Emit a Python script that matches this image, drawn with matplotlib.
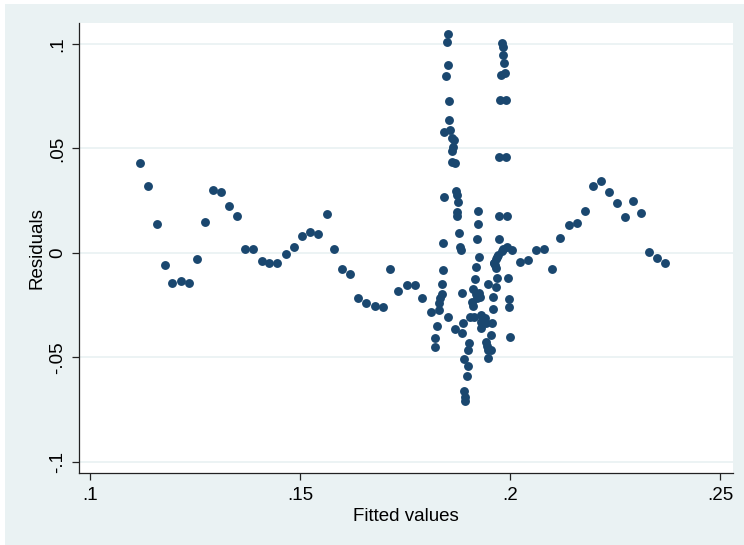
import matplotlib.pyplot as plt
from matplotlib.patches import Rectangle

plt.rcParams['font.family'] = ['Liberation Sans', 'DejaVu Sans']

# fitted values (x) and residuals (y)
fitted = [
    0.1120, 0.1139, 0.1159, 0.1178, 0.1196, 0.1216, 0.1235, 0.1255, 0.1274, 0.1292,
    0.1312, 0.1331, 0.1350, 0.1370, 0.1389, 0.1409, 0.1427, 0.1446, 0.1466, 0.1485,
    0.1505, 0.1524, 0.1542, 0.1564, 0.1580, 0.1601, 0.1620, 0.1638, 0.1658, 0.1678,
    0.1698, 0.1715, 0.1734, 0.1754, 0.1774, 0.1790, 0.1812, 0.1826, 0.1822, 0.1822,
    0.1831, 0.1830, 0.1833, 0.1837, 0.1838, 0.1840, 0.1841, 0.1843, 0.1852,
    0.1852, 0.1850, 0.1853, 0.1848, 0.1854, 0.1855, 0.1844, 0.1857, 0.1861, 0.1867,
    0.1865, 0.1861, 0.1863, 0.1870, 0.1871, 0.1875, 0.1877, 0.1873, 0.1874, 0.1879,
    0.1881, 0.1883, 0.1885, 0.1869, 0.1887, 0.1886, 0.1903, 0.1901, 0.1891, 0.1899,
    0.1898, 0.1891, 0.1894, 0.1894,
    0.1923, 0.1925, 0.1921, 0.1927, 0.1920, 0.1916, 0.1913, 0.1918, 0.1926, 0.1922,
    0.1929, 0.1909, 0.1911, 0.1905, 0.1914, 0.1932, 0.1932, 0.1931, 0.1940, 0.1943,
    0.1948, 0.1943, 0.1946, 0.1948, 0.1948, 0.1955, 0.1954, 0.1957, 0.1959, 0.1960,
    0.1966, 0.1968, 0.1967, 0.1963, 0.1967, 0.1970, 0.1974, 0.1975, 0.1992,
    0.1975, 0.1990, 0.1976, 0.1990, 0.1979, 0.1989, 0.1986, 0.1983, 0.1984, 0.1982,
    0.1984, 0.1992, 0.2004, 0.1995, 0.1997, 0.1997, 0.2000, 0.1961, 0.1965, 0.1972,
    0.1980, 0.2024, 0.2043, 0.2061, 0.2081, 0.2101, 0.2120, 0.2140, 0.2159, 0.2178,
    0.2198, 0.2216, 0.2236, 0.2255, 0.2274, 0.2294, 0.2312, 0.2331, 0.2350, 0.2369,
]
residuals = [
    0.0431, 0.0322, 0.0136, -0.0056, -0.0144, -0.0134, -0.0144, -0.0027, 0.0147, 0.0303,
    0.0293, 0.0223, 0.0175, 0.0019, 0.0019, -0.0037, -0.0048, -0.0048, -0.0006, 0.0029,
    0.0081, 0.0099, 0.0089, 0.0185, 0.0019, -0.0075, -0.0102, -0.0217, -0.0238, -0.0252,
    -0.0257, -0.0077, -0.0180, -0.0152, -0.0155, -0.0214, -0.0285, -0.0352, -0.0408, -0.0448,
    -0.0273, -0.0241, -0.0217, -0.0196, -0.0150, -0.0081, 0.0048, 0.0269, -0.0305,
    0.1045, 0.1008, 0.0900, 0.0847, 0.0726, 0.0638, 0.0577, 0.0589, 0.0549, 0.0541,
    0.0509, 0.0488, 0.0437, 0.0432, 0.0298, 0.0278, 0.0245, 0.0198, 0.0178, 0.0094,
    0.0030, 0.0014, -0.0190, -0.0365, -0.0336, -0.0384, -0.0429, -0.0464, -0.0509, -0.0541,
    -0.0589, -0.0660, -0.0687, -0.0708,
    0.0199, 0.0136, 0.0066, -0.0019, -0.0068, -0.0124, -0.0174, -0.0196, -0.0190, -0.0217,
    -0.0209, -0.0233, -0.0254, -0.0308, -0.0305, -0.0297, -0.0329, -0.0360, -0.0313, -0.0336,
    -0.0150, -0.0424, -0.0445, -0.0464, -0.0504, -0.0464, -0.0392, -0.0333, -0.0269, -0.0209,
    -0.0161, -0.0121, -0.0073, -0.0049, -0.0030, -0.0018, 0.0066, 0.0177, 0.0177,
    0.0461, 0.0461, 0.0732, 0.0732, 0.0852, 0.0863, 0.0907, 0.0947, 0.0984, 0.1003,
    0.0019, 0.0027, 0.0014, -0.0118, -0.0219, -0.0260, -0.0402, -0.0048, -0.0060, -0.0010,
    0.0010, -0.0045, -0.0033, 0.0014, 0.0018, -0.0077, 0.0069, 0.0134, 0.0145, 0.0201,
    0.0322, 0.0346, 0.0290, 0.0241, 0.0172, 0.0250, 0.0191, 0.0005, -0.0024, -0.0048,
]

xticks = [0.1, 0.15, 0.2, 0.25]
xtick_labels = ['.1', '.15', '.2', '.25']
yticks = [-0.1, -0.05, 0, 0.05, 0.1]
ytick_labels = ['-.1', '-.05', '0', '.05', '.1']

fig = plt.figure(figsize=(7.44, 5.45), dpi=100, facecolor='white')
# stata-like graph region
fig.patches.append(Rectangle((5 / 744, 0), 1, 541 / 545, transform=fig.transFigure,
                             facecolor='#eaf2f3', edgecolor='none', zorder=-10))

ax = fig.add_axes([79 / 744, 72 / 545, 654 / 744, 450 / 545])
ax.set_facecolor('white')

ax.plot(fitted, residuals, 'o', color='#1a476f', markersize=6.4,
        markeredgewidth=0, zorder=3)

ax.set_xlim(0.09738, 0.25310)
ax.set_ylim(-0.1053, 0.1100)

ax.set_xticks(xticks)
ax.set_xticklabels(xtick_labels)
ax.set_yticks(yticks)
ax.set_yticklabels(ytick_labels, rotation=90, va='center')

ax.yaxis.grid(True, color='#eaf2f3', linewidth=1.3)
ax.set_axisbelow(True)

for s in ['top', 'right']:
    ax.spines[s].set_visible(False)
for s in ['left', 'bottom']:
    ax.spines[s].set_color('#222222')
    ax.spines[s].set_linewidth(0.9)

ax.tick_params(axis='both', direction='out', length=5, width=0.9, color='#222222',
               labelsize=13.5, labelcolor='black')
ax.tick_params(axis='y', pad=4)
ax.tick_params(axis='x', pad=5)

ax.set_xlabel('Fitted values', fontsize=13.5, labelpad=3)
ax.set_ylabel('Residuals', fontsize=13.5, labelpad=3)

fig.savefig('out.png', dpi=100, facecolor=fig.get_facecolor())
